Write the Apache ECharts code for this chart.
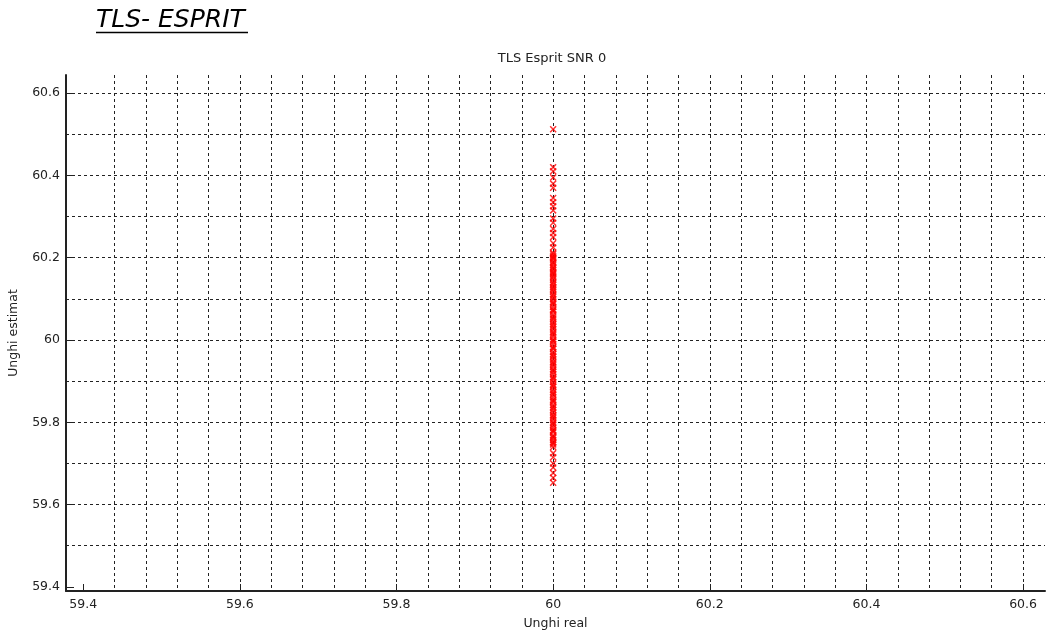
<!DOCTYPE html>
<html>
<head>
<meta charset="utf-8">
<title>TLS Esprit SNR 0</title>
<script src="https://cdn.jsdelivr.net/npm/echarts@6/dist/echarts.min.js"></script>
<style>
  html, body { margin: 0; padding: 0; background: #fff; }
  #chart { width: 1047px; height: 631px; }
</style>
</head>
<body>
<div id="chart"></div>
<script>
  // axis ranges
  const xMin = 59.378
  const xMax = 60.628
  const yMin = 59.39
  const yMax = 60.644

  // labelled ticks and the (denser) dashed grid
  const xTicks = [59.4, 59.6, 59.8, 60, 60.2, 60.4, 60.6]
  const yTicks = [59.4, 59.6, 59.8, 60, 60.2, 60.4, 60.6]
  const xGrid = [59.44, 59.48, 59.52, 59.56, 59.6, 59.64, 59.68, 59.72, 59.76, 59.8,
    59.84, 59.88, 59.92, 59.96, 60, 60.04, 60.08, 60.12, 60.16, 60.2,
    60.24, 60.28, 60.32, 60.36, 60.4, 60.44, 60.48, 60.52, 60.56, 60.6]
  const yGrid = [59.5, 59.6, 59.7, 59.8, 59.9, 60, 60.1, 60.2, 60.3, 60.4, 60.5, 60.6]

  // real angle (all runs) and estimated angles
  const realAngle = 60
  const estimated = [
    60.512,
    60.42, 60.41, 60.395, 60.38, 60.37, 60.345, 60.335, 60.325, 60.315, 60.295,
    60.285, 60.27, 60.26, 60.25, 60.235, 60.225,
    60.212, 60.205, 60.199, 60.196, 60.19, 60.183, 60.178, 60.171, 60.166, 60.16,
    60.152, 60.147, 60.141, 60.134, 60.129, 60.122, 60.118, 60.111, 60.104, 60.099,
    60.093, 60.087, 60.08, 60.074, 60.069, 60.062, 60.057, 60.05, 60.044, 60.039,
    60.031, 60.026, 60.02, 60.013, 60.008, 60.001, 59.996, 59.99, 59.983, 59.978,
    59.971, 59.966, 59.959, 59.953, 59.947, 59.94, 59.935, 59.929, 59.922, 59.917,
    59.91, 59.904, 59.898, 59.892, 59.886, 59.879, 59.874, 59.867, 59.861, 59.855,
    59.849, 59.842, 59.837, 59.83, 59.824, 59.818, 59.811, 59.806, 59.8, 59.793,
    59.787, 59.781, 59.776, 59.768, 59.762, 59.757, 59.752,
    60.209, 60.201, 60.187, 60.175, 60.163, 60.155, 60.138, 60.125, 60.108, 60.09,
    60.072, 60.053, 60.035, 60.017, 59.998, 59.98, 59.962, 59.944, 59.926, 59.907,
    59.889, 59.87, 59.852, 59.834, 59.815, 59.797, 59.779, 59.765, 59.749, 59.746,
    59.74, 59.725, 59.715, 59.70, 59.69, 59.677, 59.665, 59.653
  ]

  const labelFont = { fontFamily: 'DejaVu Sans', fontSize: 12.5, color: '#222' }
  const dashed = { show: true, lineStyle: { color: '#222', width: 1, type: [3, 3] } }
  const crossMark = 'path://M0,1.5L1.5,0L5,3.5L8.5,0L10,1.5L6.5,5L10,8.5L8.5,10L5,6.5L1.5,10L0,8.5L3.5,5Z'

  const chart = echarts.init(document.getElementById('chart'))
  chart.setOption({
      animation: false,
      backgroundColor: '#fff',
      title: {
          text: 'TLS Esprit SNR 0',
          left: 552,
          top: 52,
          textAlign: 'center',
          padding: 0,
          textStyle: { fontFamily: 'DejaVu Sans', fontSize: 13, fontWeight: 'normal', color: '#222' }
      },
      graphic: [
          {
              type: 'text',
              left: 96,
              top: 8,
              style: { text: 'TLS- ESPRIT', font: 'italic 25px "DejaVu Sans"', fill: '#000' }
          },
          {
              type: 'line',
              shape: { x1: 96, y1: 32.5, x2: 248, y2: 32.5 },
              style: { stroke: '#000', lineWidth: 1.5 }
          }
      ],
      grid: {
          left: 66,
          top: 75,
          right: 2,
          bottom: 40,
          containLabel: false,
          outerBoundsMode: 'none'
      },
      xAxis: [
          {
              type: 'value',
              min: xMin,
              max: xMax,
              position: 'bottom',
              name: 'Unghi real',
              nameLocation: 'middle',
              nameGap: 26,
              nameTextStyle: labelFont,
              axisLine: { lineStyle: { color: '#222', width: 2 } },
              axisTick: { inside: true, length: 7, customValues: xTicks, lineStyle: { color: '#222' } },
              axisLabel: Object.assign({ margin: 7, customValues: xTicks }, labelFont),
              splitLine: { show: false }
          },
          {
              type: 'value',
              min: xMin,
              max: xMax,
              position: 'bottom',
              axisLine: { show: false },
              axisTick: { show: false, customValues: xGrid },
              axisLabel: { show: false },
              splitLine: dashed
          }
      ],
      yAxis: [
          {
              type: 'value',
              min: yMin,
              max: yMax,
              position: 'left',
              name: 'Unghi estimat',
              nameLocation: 'middle',
              nameRotate: 90,
              nameGap: 46,
              nameTextStyle: labelFont,
              axisLine: { lineStyle: { color: '#222', width: 2 } },
              axisTick: { inside: true, length: 8, customValues: yTicks, lineStyle: { color: '#222' } },
              axisLabel: Object.assign({ margin: 6, customValues: yTicks }, labelFont),
              splitLine: { show: false }
          },
          {
              type: 'value',
              min: yMin,
              max: yMax,
              position: 'left',
              axisLine: { show: false },
              axisTick: { show: false, customValues: yGrid },
              axisLabel: { show: false },
              splitLine: dashed
          }
      ],
      series: [
          {
              type: 'scatter',
              xAxisIndex: 0,
              yAxisIndex: 0,
              symbol: crossMark,
              symbolSize: 7,
              itemStyle: { color: '#ff0000' },
              data: estimated.map(v => [realAngle, v])
          }
      ]
  })
</script>
</body>
</html>
